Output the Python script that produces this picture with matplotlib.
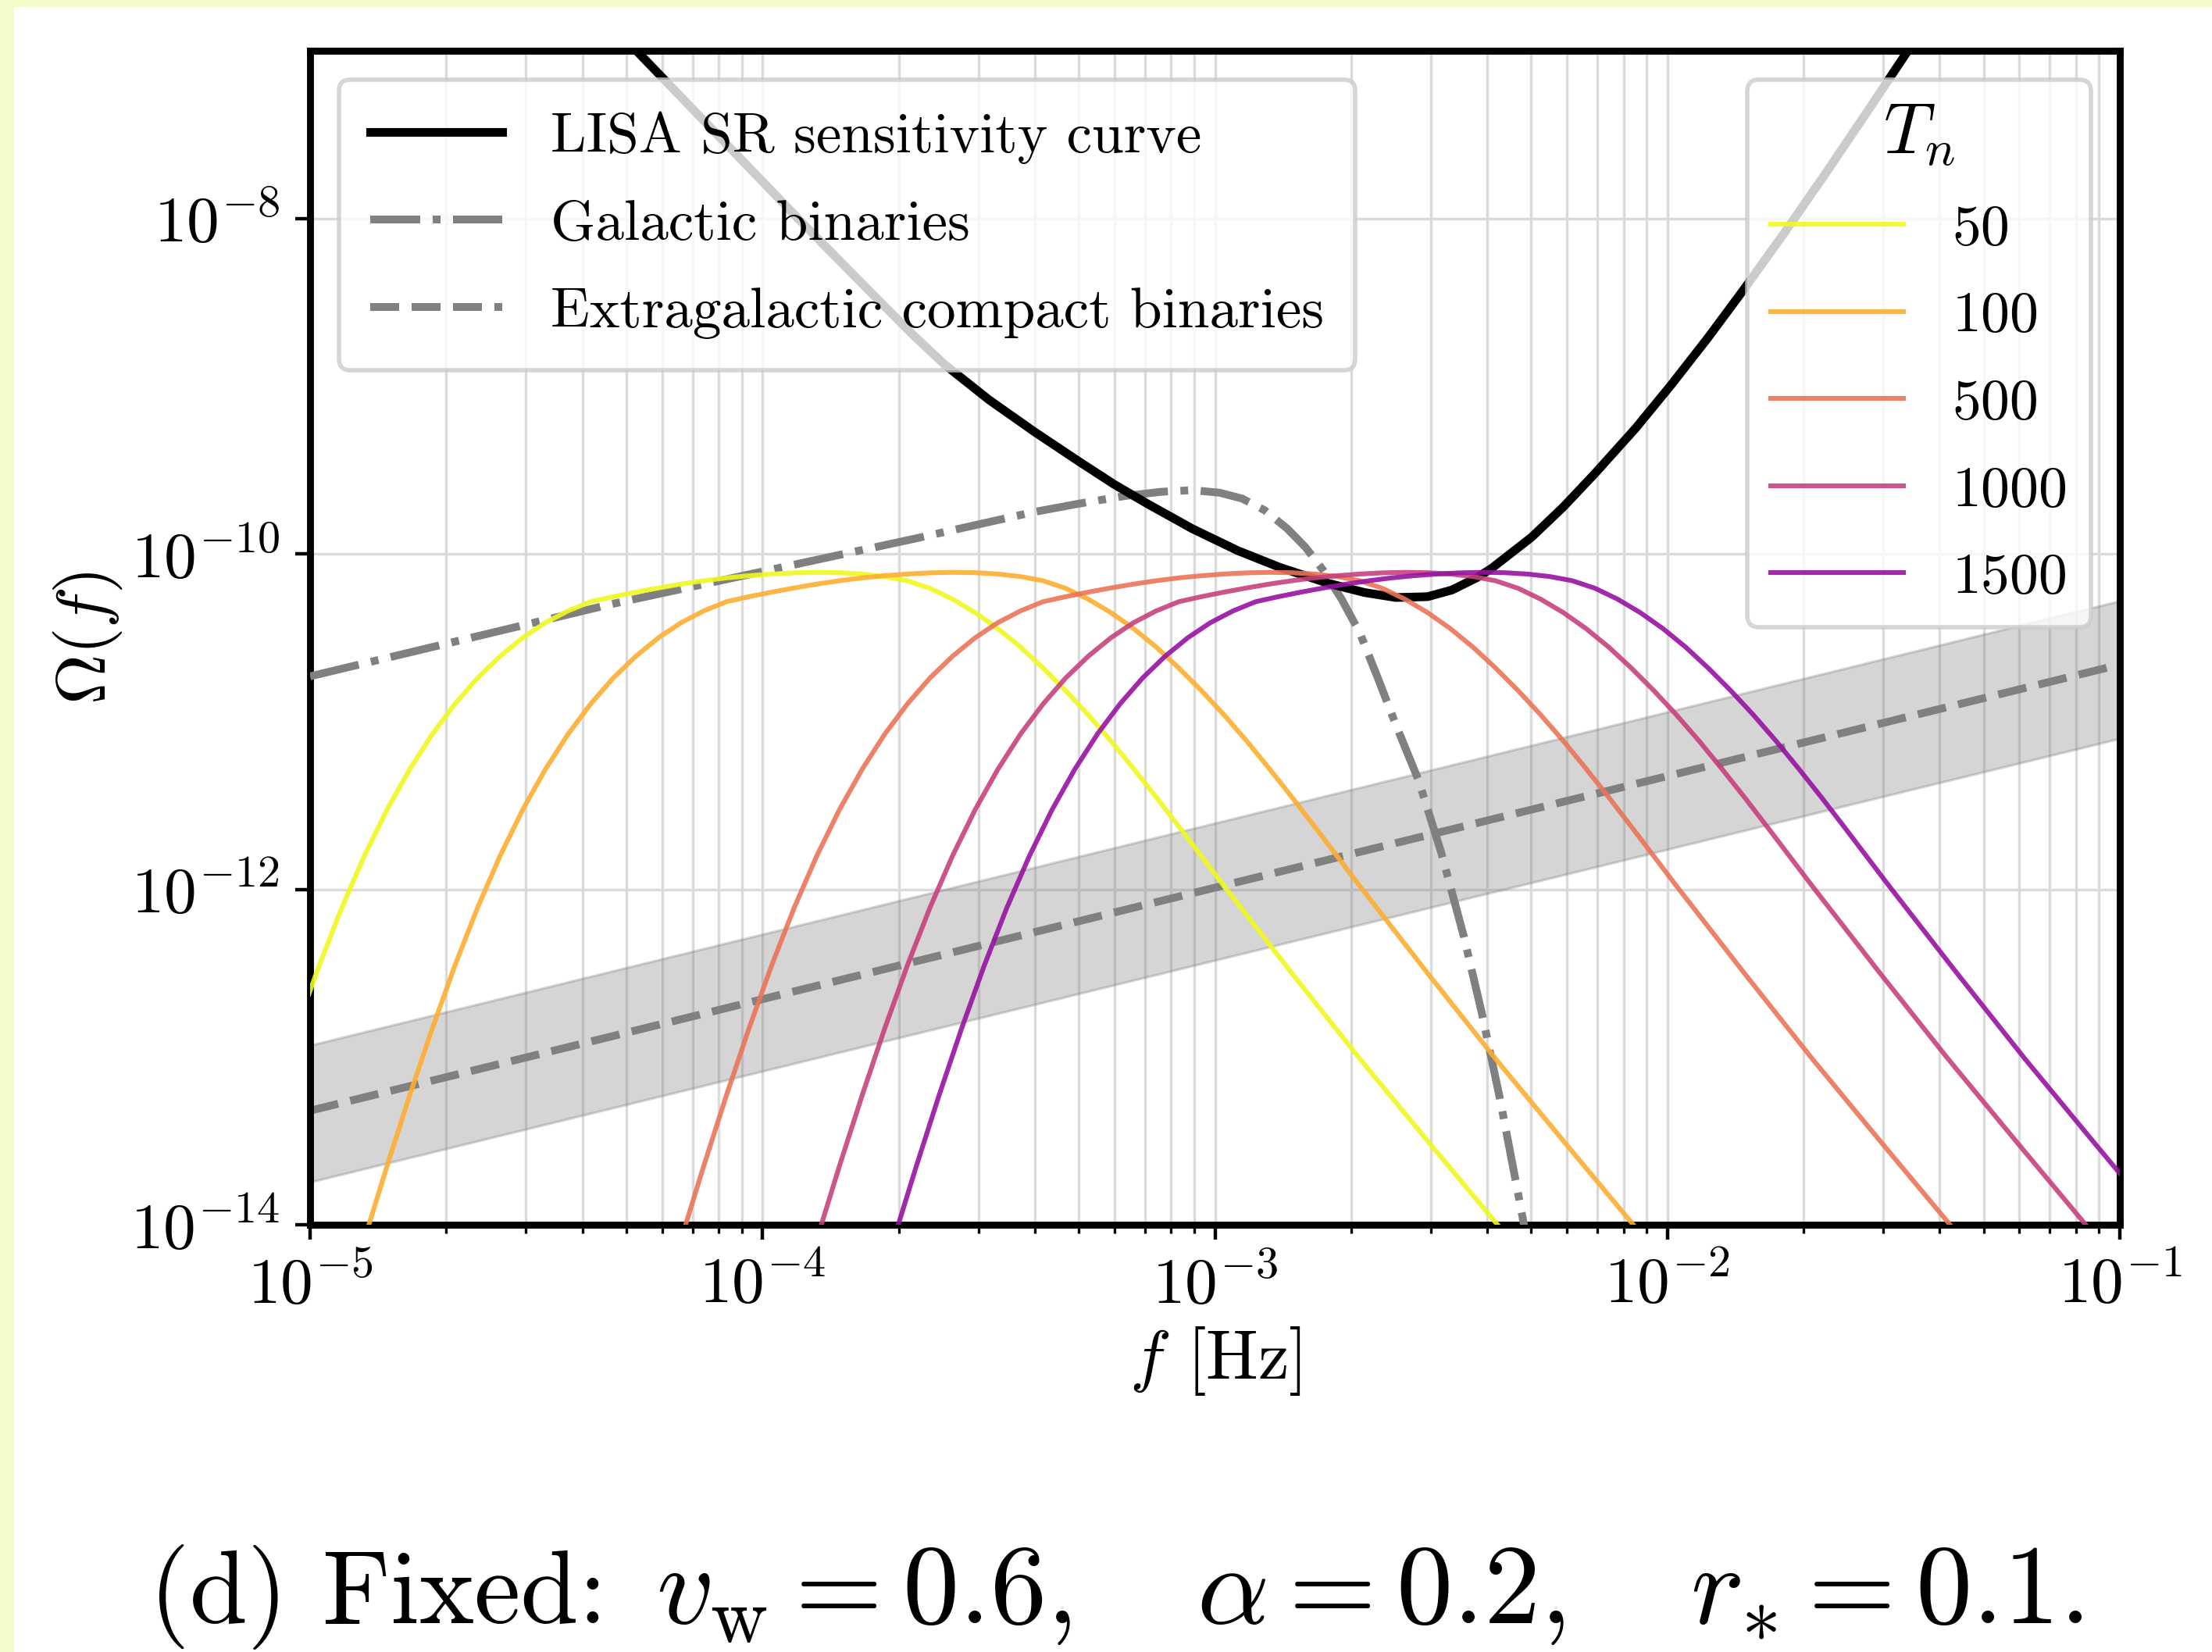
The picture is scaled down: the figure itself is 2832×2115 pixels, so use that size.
import numpy as np
import matplotlib
matplotlib.use("Agg")
import matplotlib.pyplot as plt
from matplotlib.patches import Rectangle

plt.rcParams['font.family'] = 'serif'
plt.rcParams['font.serif'] = ['cmr10']
plt.rcParams['mathtext.fontset'] = 'cm'
plt.rcParams['axes.formatter.use_mathtext'] = True

# values, as log10(f [Hz]) and log10(Omega)
lisa_logf = [-4.30, -4.10, -3.90, -3.75, -3.665, -3.598, -3.50, -3.40, -3.30, -3.223,
             -3.15, -3.05, -2.95, -2.857, -2.75, -2.67, -2.60, -2.53, -2.476, -2.42,
             -2.388, -2.30, -2.23, -2.16, -2.07, -1.991, -1.91, -1.833, -1.74, -1.65,
             -1.56, -1.471, -1.44]
lisa_logO = [-6.94, -7.50, -8.06, -8.47, -8.70, -8.87, -9.08, -9.27, -9.45, -9.585,
             -9.70, -9.85, -9.98, -10.08, -10.175, -10.23, -10.26, -10.255, -10.215, -10.14,
             -10.085, -9.90, -9.72, -9.52, -9.25, -8.99, -8.71, -8.43, -8.08, -7.73,
             -7.37, -7.01, -6.88]

gb_logf = [-5.0, -4.335, -3.665, -3.40, -3.30, -3.20, -3.12, -3.05, -2.99, -2.94,
           -2.89, -2.84, -2.80, -2.76, -2.72, -2.68, -2.64, -2.60, -2.55, -2.50,
           -2.45, -2.41, -2.37, -2.331, -2.31]
gb_logO = [-10.73, -10.30, -9.91, -9.75, -9.70, -9.655, -9.63, -9.62, -9.635, -9.67,
           -9.74, -9.85, -9.96, -10.10, -10.27, -10.47, -10.74, -11.02, -11.35, -11.78,
           -12.28, -12.74, -13.25, -13.80, -14.1]

ecb_logf = [-5.0, -1.0]
ecb_logO = [-13.32, -10.66]
ecb_hi_logO = [-12.93, -10.28]
ecb_lo_logO = [-13.745, -11.10]

Tn_labels = ['50', '100', '500', '1000', '1500']

# the five T_n spectra have the same shape in the picture, only shifted in f
sw_logO = [-14.0, -13.65, -13.23, -12.83, -12.455, -12.11, -11.80, -11.525, -11.285, -11.075,
           -10.895, -10.74, -10.61, -10.50, -10.41, -10.34, -10.285, -10.255, -10.228, -10.203,
           -10.18, -10.16, -10.143, -10.13, -10.12, -10.113, -10.11, -10.112, -10.12, -10.135,
           -10.16, -10.205, -10.27, -10.35, -10.445, -10.555, -10.68, -10.815, -10.96, -11.115,
           -11.28, -11.45, -11.625, -11.98, -12.50, -13.01, -13.50, -13.985, -14.15]

sw50_logf = [-5.17, -5.13, -5.08, -5.03, -4.98, -4.93, -4.88, -4.83, -4.78, -4.73,
             -4.68, -4.63, -4.58, -4.53, -4.48, -4.43, -4.38, -4.33, -4.28, -4.23,
             -4.18, -4.13, -4.08, -4.03, -3.98, -3.93, -3.88, -3.83, -3.78, -3.73,
             -3.68, -3.63, -3.58, -3.53, -3.48, -3.43, -3.38, -3.33, -3.28, -3.23,
             -3.18, -3.13, -3.08, -2.98, -2.83, -2.68, -2.53, -2.38, -2.33]
sw100_logf = [-4.87, -4.83, -4.78, -4.73, -4.68, -4.63, -4.58, -4.53, -4.48, -4.43,
              -4.38, -4.33, -4.28, -4.23, -4.18, -4.13, -4.08, -4.03, -3.98, -3.93,
              -3.88, -3.83, -3.78, -3.73, -3.68, -3.63, -3.58, -3.53, -3.48, -3.43,
              -3.38, -3.33, -3.28, -3.23, -3.18, -3.13, -3.08, -3.03, -2.98, -2.93,
              -2.88, -2.83, -2.78, -2.68, -2.53, -2.38, -2.23, -2.08, -2.03]
sw500_logf = [-4.17, -4.13, -4.08, -4.03, -3.98, -3.93, -3.88, -3.83, -3.78, -3.73,
              -3.68, -3.63, -3.58, -3.53, -3.48, -3.43, -3.38, -3.33, -3.28, -3.23,
              -3.18, -3.13, -3.08, -3.03, -2.98, -2.93, -2.88, -2.83, -2.78, -2.73,
              -2.68, -2.63, -2.58, -2.53, -2.48, -2.43, -2.38, -2.33, -2.28, -2.23,
              -2.18, -2.13, -2.08, -1.98, -1.83, -1.68, -1.53, -1.38, -1.33]
sw1000_logf = [-3.87, -3.83, -3.78, -3.73, -3.68, -3.63, -3.58, -3.53, -3.48, -3.43,
               -3.38, -3.33, -3.28, -3.23, -3.18, -3.13, -3.08, -3.03, -2.98, -2.93,
               -2.88, -2.83, -2.78, -2.73, -2.68, -2.63, -2.58, -2.53, -2.48, -2.43,
               -2.38, -2.33, -2.28, -2.23, -2.18, -2.13, -2.08, -2.03, -1.98, -1.93,
               -1.88, -1.83, -1.78, -1.68, -1.53, -1.38, -1.23, -1.08, -1.03]
sw1500_logf = [-3.70, -3.66, -3.61, -3.56, -3.51, -3.46, -3.41, -3.36, -3.31, -3.26,
               -3.21, -3.16, -3.11, -3.06, -3.01, -2.96, -2.91, -2.86, -2.81, -2.76,
               -2.71, -2.66, -2.61, -2.56, -2.51, -2.46, -2.41, -2.36, -2.31, -2.26,
               -2.21, -2.16, -2.11, -2.06, -2.01, -1.96, -1.91, -1.86, -1.81, -1.76,
               -1.71, -1.66, -1.61, -1.51, -1.36, -1.21, -1.06, -0.91, -0.86]

sw_logf = [sw50_logf, sw100_logf, sw500_logf, sw1000_logf, sw1500_logf]

cmap = plt.get_cmap('plasma')
sw_colors = [cmap(c) for c in [1.0, 0.82, 0.65, 0.48, 0.32]]

W, H, DPI = 2832, 2115, 400
fig = plt.figure(figsize=(W / DPI, H / DPI), dpi=DPI)
fig.patch.set_facecolor('#f3fcc8')
fig.add_artist(Rectangle((18 / W, 0), 1, 1 - 9 / H, transform=fig.transFigure,
                         facecolor='white', edgecolor='none', zorder=-10))

ax = fig.add_axes([397 / W, 1 - 1568 / H, (2714 - 397) / W, (1568 - 65) / H])

p = lambda a: 10.0 ** np.asarray(a)

ax.fill_between(p(ecb_logf), p(ecb_lo_logO), p(ecb_hi_logO), color='gray', alpha=0.33, lw=0.6, zorder=1)
l_ecb, = ax.plot(p(ecb_logf), p(ecb_logO), ls='--', color='gray', lw=1.8, zorder=2)
l_gb, = ax.plot(p(gb_logf), p(gb_logO), ls='-.', color='gray', lw=1.8, zorder=3)
l_lisa, = ax.plot(p(lisa_logf), p(lisa_logO), color='black', lw=2.0, zorder=3)

sw_lines = []
for lf, c in zip(sw_logf, sw_colors):
    ln, = ax.plot(p(lf), p(sw_logO), color=c, lw=1.1, alpha=0.9, zorder=4)
    sw_lines.append(ln)

ax.set_xscale('log')
ax.set_yscale('log')
ax.set_xlim(1e-5, 1e-1)
ax.set_ylim(1e-14, 1e-7)
ax.set_yticks([1e-14, 1e-12, 1e-10, 1e-8])
ax.yaxis.set_minor_locator(matplotlib.ticker.NullLocator())

ax.grid(True, which='major', color='#dadada', lw=0.6)
ax.grid(True, which='minor', axis='x', color='#dadada', lw=0.6)
ax.set_axisbelow(True)
for s in ax.spines.values():
    s.set_linewidth(1.6)
ax.tick_params(labelsize=15)

ax.set_xlabel(r'$f$ [Hz]', fontsize=16, labelpad=2)
ax.set_ylabel(r'$\Omega(f)$', fontsize=16, labelpad=1.5)

leg1 = ax.legend([l_lisa, l_gb, l_ecb],
                 ['LISA SR sensitivity curve', 'Galactic binaries', 'Extragalactic compact binaries'],
                 loc='upper left', fontsize=13.2, handlelength=2.3, handletextpad=0.85,
                 labelspacing=0.63, borderpad=0.55)
ax.add_artist(leg1)
ax.legend(sw_lines, Tn_labels, loc='upper right', title=r'$T_n$', title_fontsize=16.5,
          fontsize=13.3, handlelength=2.3, handletextpad=0.85, labelspacing=0.62)

# caption under the panel
fig.text(777 / W, 0.0175, '(d) Fixed:', ha='right', va='baseline', fontsize=24)
fig.text(840 / W, 0.0175, r'$v_{\mathrm{w}} = 0.6$,  $\;\,\alpha = 0.2$,  $\;\,r_{*} = 0.1$.',
         ha='left', va='baseline', fontsize=26)

fig.savefig('out.png', dpi=DPI, facecolor=fig.get_facecolor())
